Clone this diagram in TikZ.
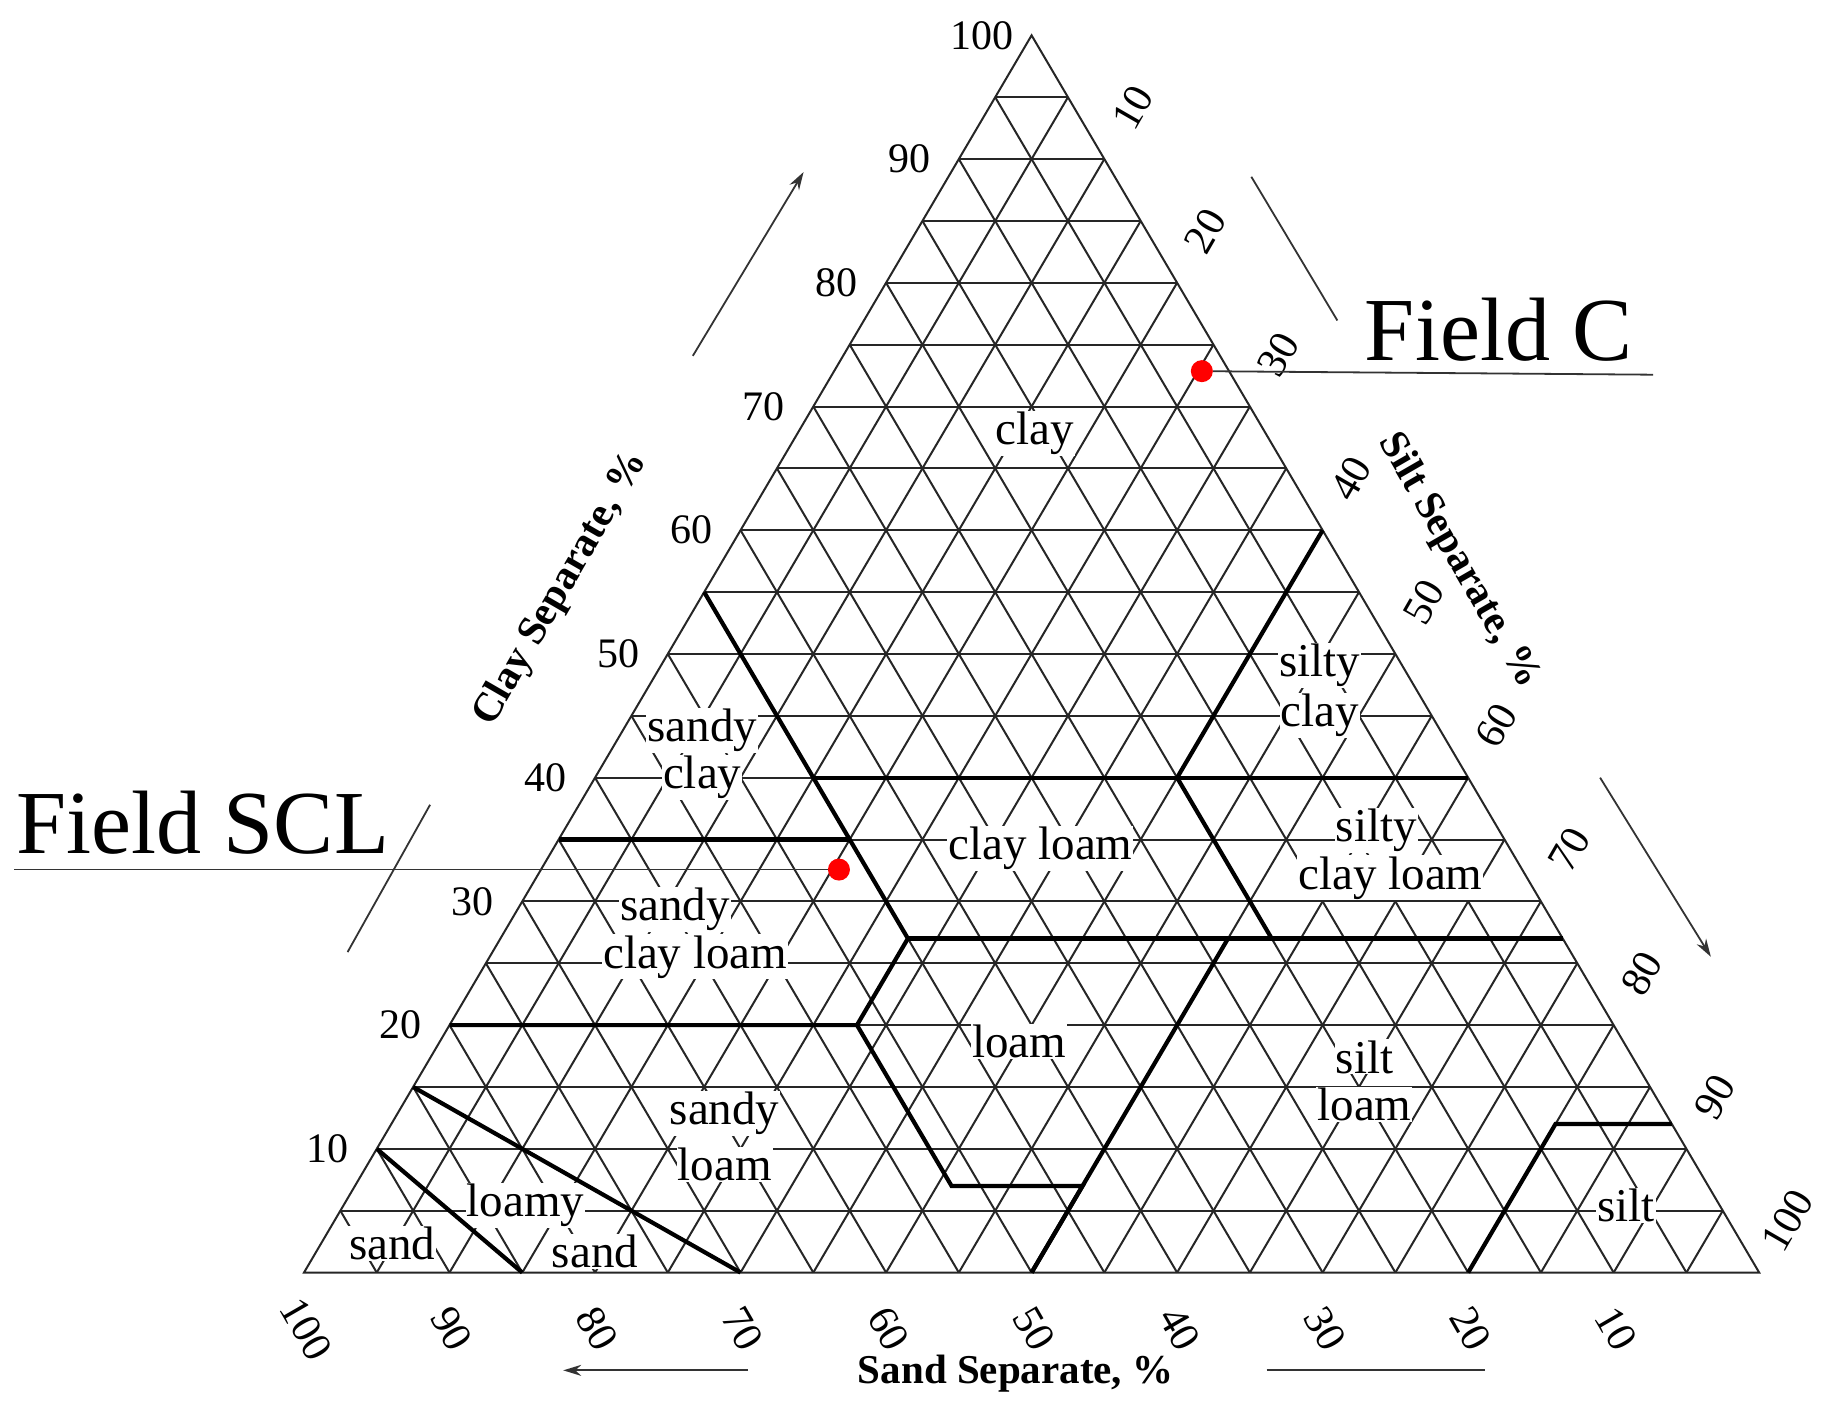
\documentclass[tikz,border=0pt]{standalone}
\usepackage{fontspec}
\setmainfont{Liberation Serif}
\usetikzlibrary{arrows.meta}
\newcommand{\tp}[2]{({258+((#2)+(#1)/2)*12.35},{1080-(#1)*10.5})}
\begin{document}
\begin{tikzpicture}[x=1.178pt,y=-1.178pt,
  gridline/.style={line width=2pt,black!85},
  bound/.style={line width=4.2pt,black},
  reg/.style={fill=white,inner sep=1pt,font=\fontsize{47}{47}\selectfont},
  num/.style={inner sep=0pt,font=\fontsize{42}{42}\selectfont},
  axt/.style={inner sep=0pt,font=\fontsize{41}{41}\selectfont\bfseries},
  fld/.style={inner sep=0pt,font=\fontsize{90}{90}\selectfont},
  thinl/.style={line width=1.8pt,black!80}]
\useasboundingbox (0,0) rectangle (1565,1196);
% grid
\foreach \k in {5,10,...,95}{
  \draw[gridline] \tp{\k}{0} -- \tp{\k}{100-\k};
  \draw[gridline] \tp{0}{\k} -- \tp{100-\k}{\k};
  \draw[gridline] \tp{0}{100-\k} -- \tp{100-\k}{0};
}
\draw[gridline] \tp{0}{0} -- \tp{0}{100} -- \tp{100}{0} -- cycle;
% region labels
\node[reg] (rclay) at (878,368) {clay};
\node[reg] (rsc1) at (596,620) {sandy};
\node[reg] (rsc2) at (596,660) {clay};
\node[reg] (rsic1) at (1120,565) {silty};
\node[reg] (rsic2) at (1120,607) {clay};
\node[reg] (rcl) at (883,720) {clay loam};
\node[reg] (rsicl1) at (1168,705) {silty};
\node[reg] (rsicl2) at (1180,745) {clay loam};
\node[reg] (rscl1) at (573,772) {sandy};
\node[reg] (rscl2) at (590,812) {clay loam};
\node[reg] (rl) at (865,884) {loam};
\node[reg] (rsil1) at (1158,897) {silt};
\node[reg] (rsil2) at (1158,937) {loam};
\node[reg] (rsl1) at (615,945) {sandy};
\node[reg] (rsl2) at (615,988) {loam};
\node[reg] (rls1) at (446,1023) {loamy};
\node[reg] (rs) at (333,1055) {sand};
\node[reg] (rls2) at (505,1062) {sand};
\node[reg] (rsilt) at (1380,1023) {silt};
% boundaries
\draw[bound] \tp{10}{0} -- \tp{0}{15};
\draw[bound] \tp{15}{0} -- \tp{0}{30};
\draw[bound] \tp{20}{0} -- \tp{20}{28} -- \tp{7}{41} -- \tp{7}{50} -- \tp{0}{50};
\draw[bound] \tp{20}{28} -- \tp{27}{28} -- \tp{55}{0};
\draw[bound] \tp{35}{0} -- \tp{35}{20};
\draw[bound] \tp{27}{28} -- \tp{27}{73};
\draw[bound] \tp{0}{50} -- \tp{27}{50};
\draw[bound] \tp{27}{53} -- \tp{40}{40} -- \tp{60}{40};
\draw[bound] \tp{40}{15} -- \tp{40}{60};
\draw[bound] \tp{0}{80} -- \tp{12}{80} -- \tp{12}{88};
% axis numbers
\foreach \k in {10,20,...,100}{
  \path \tp{\k}{0} ++(-42,0) node[num] (cl\k) {\k};
  \path \tp{100-\k}{\k} ++(24,-44) node[num,rotate=60] (si\k) {\k};
  \path \tp{0}{100-\k} ++(2,48) node[num,rotate=-60] (sa\k) {\k};
}
% axis titles
\node[axt,rotate=60] (tclay) at (476,500) {Clay Separate, \%};
\node[axt,rotate=-60] (tsilt) at (1238,476) {Silt Separate, \%};
\node[axt] (tsand) at (862,1166) {Sand Separate, \%};
% arrows and lines
\coordinate (a1) at (588,302); \coordinate (a2) at (682,146);
\draw[thinl,-{Stealth[length=18pt,width=11pt]}] (a1) -- (a2);
\coordinate (b1) at (1358,660); \coordinate (b2) at (1452,812);
\draw[thinl,-{Stealth[length=18pt,width=11pt]}] (b1) -- (b2);
\coordinate (c1) at (635,1163); \coordinate (c2) at (478,1163);
\draw[thinl,-{Stealth[length=18pt,width=11pt]}] (c1) -- (c2);
\coordinate (d1) at (1075,1163); \coordinate (d2) at (1260,1163);
\draw[thinl] (d1) -- (d2);
\coordinate (e1) at (1062,150); \coordinate (e2) at (1135,272);
\draw[thinl] (e1) -- (e2);
\coordinate (f1) at (295,808); \coordinate (f2) at (365,683);
\draw[thinl] (f1) -- (f2);
% fields
\node[circle,fill=red,inner sep=0pt,minimum size=22pt] (fc) at (1020,315) {};
\node[circle,fill=red,inner sep=0pt,minimum size=22pt] (fs) at (712,738) {};
\coordinate (fcl) at (1403,318);
\draw[thinl] (fc) -- (fcl);
\coordinate (fsl) at (12,738);
\draw[thinl] (fs) -- (fsl);
\node[fld] (tfc) at (1272,280) {Field C};
\node[fld] (tfs) at (172,698) {Field SCL};
\end{tikzpicture}
\end{document}
